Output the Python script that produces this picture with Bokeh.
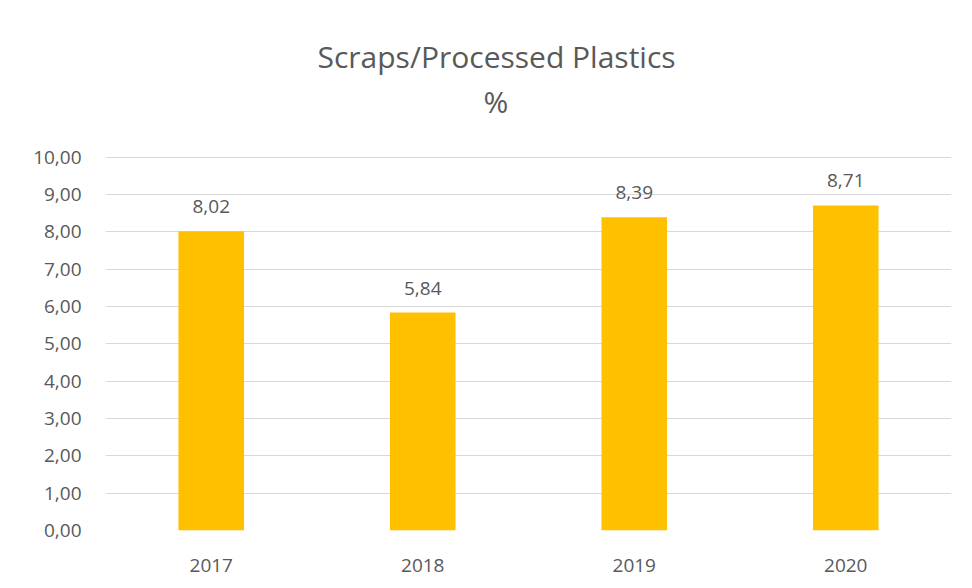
from bokeh.plotting import figure
from bokeh.models import ColumnDataSource, LabelSet, Title, FixedTicker, CustomJSTickFormatter
from bokeh.core.properties import value
from bokeh.embed import file_html
from bokeh.resources import INLINE

years = ["2017", "2018", "2019", "2020"]
values = [8.02, 5.84, 8.39, 8.71]
labels = ["8,02", "5,84", "8,39", "8,71"]
y_ticks = [0, 1, 2, 3, 4, 5, 6, 7, 8, 9, 10]
title_main = "Scraps/Processed Plastics"
title_sub = "%"

FONT = "Open Sans"
GRAY = "#595959"

src = ColumnDataSource(dict(x=years, top=values, lab=labels))

p = figure(x_range=years, y_range=(0, 10.02), width=972, height=588,
           output_backend="svg", toolbar_location=None,
           min_border_left=105, min_border_right=21, min_border_bottom=58, min_border_top=156)

p.title.text = title_main
p.title.align = "left"
p.title.offset = 212
p.title.text_font = FONT
p.title.text_font_size = "30px"
p.title.text_font_style = "normal"
p.title.text_color = GRAY
p.title.standoff = -66
sub = Title(text=title_sub, align="left", offset=378, text_font=FONT,
            text_font_size="30px", text_font_style="normal", text_color=GRAY,
            standoff=70, text_line_height=0.6)
p.add_layout(sub, "above")

p.vbar(x="x", top="top", width=0.31, source=src, color="#FFC000", line_color=None)

p.add_layout(LabelSet(x="x", y="top", text="lab", source=src, text_align="center",
                      text_baseline="bottom", y_offset=18, text_font=value(FONT),
                      text_font_size="19px", text_color=GRAY))

p.outline_line_color = None
p.xgrid.grid_line_color = None
p.ygrid.grid_line_color = "#d9d9d9"
p.ygrid.grid_line_width = 1
p.yaxis.ticker = FixedTicker(ticks=y_ticks)
p.yaxis.formatter = CustomJSTickFormatter(code="return tick.toFixed(2).replace('.', ',');")

for ax in (p.xaxis, p.yaxis):
    ax.axis_line_color = None
    ax.major_tick_line_color = None
    ax.minor_tick_line_color = None
    ax.major_label_text_font = FONT
    ax.major_label_text_font_size = "19px"
    ax.major_label_text_color = GRAY
p.yaxis.major_label_standoff = 18
p.xaxis.major_label_standoff = 22

open("out.html", "w").write(file_html(p, INLINE))
